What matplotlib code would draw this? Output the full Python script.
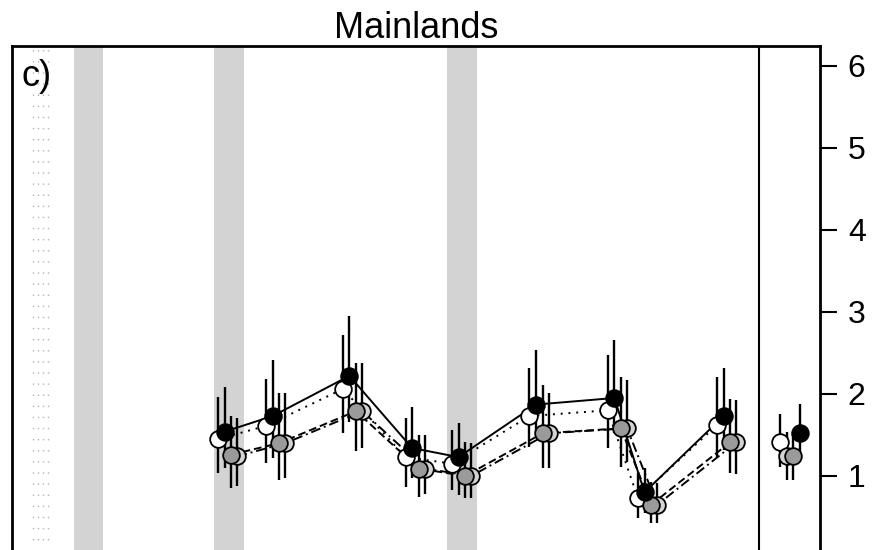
import matplotlib
matplotlib.use("Agg")
import matplotlib.pyplot as plt

plt.rcParams['font.family'] = ['Liberation Sans', 'DejaVu Sans']

# group positions along the x axis (position of the first series in each group)
group_x = [26.6, 32.8, 42.7, 50.8, 56.8, 66.8, 76.9, 80.8, 91.0]

# open circles, dotted line
white_mean = [1.45, 1.61, 2.06, 1.23, 1.15, 1.73, 1.80, 0.73, 1.62]
white_lo = [1.04, 1.16, 1.52, 0.87, 0.83, 1.35, 1.34, 0.49, 1.23]
white_hi = [1.96, 2.18, 2.72, 1.71, 1.56, 2.32, 2.48, 1.04, 2.20]

# filled black circles, solid line
black_mean = [1.54, 1.73, 2.22, 1.34, 1.23, 1.87, 1.95, 0.80, 1.73]
black_lo = [1.10, 1.22, 1.66, 0.98, 0.77, 1.52, 1.52, 0.55, 1.32]
black_hi = [2.09, 2.41, 2.95, 1.84, 1.65, 2.54, 2.66, 1.10, 2.32]

# dark grey circles, dashed line
dgrey_mean = [1.26, 1.40, 1.79, 1.09, 1.00, 1.52, 1.58, 0.65, 1.41]
dgrey_lo = [0.85, 0.95, 1.31, 0.74, 0.73, 1.10, 1.11, 0.43, 1.04]
dgrey_hi = [1.73, 2.01, 2.38, 1.50, 1.41, 2.11, 2.20, 0.93, 1.94]

# light grey circles, dot-dash line
lgrey_mean = [1.24, 1.40, 1.79, 1.09, 1.00, 1.52, 1.58, 0.65, 1.41]
lgrey_lo = [0.88, 0.98, 1.34, 0.78, 0.73, 1.10, 1.17, 0.43, 1.02]
lgrey_hi = [1.71, 2.01, 2.38, 1.50, 1.40, 2.01, 2.17, 0.91, 1.93]

# overall estimates (right panel): white, light grey, dark grey, black
overall_x = [99.2, 100.0, 100.8, 101.7]
overall_mean = [1.41, 1.24, 1.24, 1.52]
overall_lo = [1.11, 0.95, 0.95, 1.20]
overall_hi = [1.75, 1.54, 1.54, 1.88]
overall_fill = ['white', 'lightgrey', '#9a9a9a', 'black']

bands = [(8.0, 11.8), (26.1, 29.9), (56.1, 60.0)]
dotted_x = [2.7, 3.35, 4.0, 4.65]
split_x = 96.4
yticks = [1, 2, 3, 4, 5, 6]

fig = plt.figure(figsize=(8.73, 5.5), dpi=100)
ax = fig.add_axes([12 / 873, -8 / 550, 808 / 873, 512 / 550])
ax.set_xlim(0, 104.3)
ax.set_ylim(0, 6.24)

for a, b in bands:
    ax.axvspan(a, b, color='lightgrey', lw=0, zorder=0)
for x in dotted_x:
    ax.axvline(x, color='#b4b4b4', lw=1, ls=(0, (1, 7)), zorder=0)
ax.axvline(split_x, color='black', lw=1.5, zorder=1)

series = [
    (0.0, white_mean, white_lo, white_hi, 'white', (0, (1, 3))),
    (2.5, lgrey_mean, lgrey_lo, lgrey_hi, 'lightgrey', (0, (5, 2, 1, 2))),
    (1.7, dgrey_mean, dgrey_lo, dgrey_hi, '#9a9a9a', (0, (4, 2))),
    (0.85, black_mean, black_lo, black_hi, 'black', '-'),
]

ms = 12
for off, m, lo, hi, fc, ls in series:
    xs = [g + off for g in group_x]
    ax.vlines(xs, lo, hi, color='black', lw=1.7, zorder=2)
    ax.plot(xs, m, color='black', lw=1.4, ls=ls, zorder=3)
for off, m, lo, hi, fc, ls in series:
    xs = [g + off for g in group_x]
    ax.plot(xs, m, ls='none', marker='o', ms=ms, mfc=fc, mec='black',
            mew=1.3, zorder=4)

ax.vlines(overall_x, overall_lo, overall_hi, color='black', lw=1.7, zorder=2)
for x, m, fc in zip(overall_x, overall_mean, overall_fill):
    ax.plot(x, m, ls='none', marker='o', ms=ms, mfc=fc, mec='black',
            mew=1.3, zorder=4)

ax.set_xticks([])
ax.yaxis.tick_right()
ax.set_yticks(yticks)
ax.tick_params(axis='y', direction='out', length=12, width=1.5, pad=8,
               labelsize=23)
for s in ['left', 'top', 'right']:
    ax.spines[s].set_linewidth(2)
ax.spines['bottom'].set_visible(False)

ax.set_title('Mainlands', fontsize=26, pad=4)
ax.text(0.012, 0.975, 'c)', transform=ax.transAxes, fontsize=26,
        ha='left', va='top')

fig.savefig('out.png', dpi=100)
